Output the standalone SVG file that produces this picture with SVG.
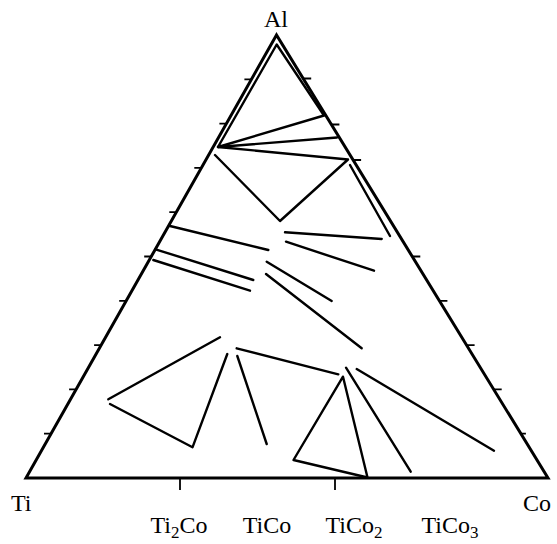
<svg xmlns="http://www.w3.org/2000/svg" width="557" height="544" viewBox="0 0 557 544">
<style>
.frame{fill:none;stroke:#000;stroke-width:3;stroke-linejoin:miter}
.tick{fill:none;stroke:#000;stroke-width:1.8}
.tie{fill:none;stroke:#000;stroke-width:2.4;stroke-linecap:round;stroke-linejoin:round}
.lbl{font-family:"Liberation Serif","Times New Roman",serif;font-size:24px;fill:#000}
.sub{font-size:17px}
</style>
<rect width="557" height="544" fill="#fff"/>
<g id="frame">
<polygon class="frame" points="276.5,35 26,478 548,478"/>
</g>
<g id="ticks">
<path class="tick" d="M251.4,79.3h-7 M226.4,123.6h-7 M201.3,167.9h-7 M176.3,212.2h-7 M151.2,256.5h-7 M126.2,300.8h-7 M101.1,345.1h-7 M76.1,389.4h-7 M51,433.7h-7"/>
<path class="tick" d="M303.2,78.5h8 M331.4,124.5h8 M353.1,160h8 M412.3,256.5h8 M439.4,300.8h8 M466.6,345.1h8 M493.7,389.4h8 M520.9,433.7h5"/>
<path class="tick" d="M180,478v12 M335,478v12"/>
</g>
<g id="connectors">
<polyline class="tie" points="324,115.5 276.7,44.5 218,147 324,115.5"/>
<line class="tie" x1="218" y1="147" x2="337" y2="137.5"/>
<polyline class="tie" points="218,147 348,159.5 280,221 215,155"/>
<line class="tie" x1="350" y1="165" x2="390" y2="236"/>
<line class="tie" x1="170" y1="226" x2="268.3" y2="250"/>
<line class="tie" x1="155.5" y1="249.3" x2="253.3" y2="280"/>
<line class="tie" x1="153.3" y1="260" x2="250" y2="290.7"/>
<line class="tie" x1="285" y1="232.3" x2="381.7" y2="239"/>
<line class="tie" x1="286" y1="241.7" x2="374" y2="270.7"/>
<line class="tie" x1="266.7" y1="261.7" x2="331.7" y2="301"/>
<line class="tie" x1="266" y1="274" x2="361.7" y2="348.3"/>
<polyline class="tie" points="220,337.3 108.3,399.3"/>
<polyline class="tie" points="110,404 192.5,447.3 227.3,354"/>
<line class="tie" x1="236.7" y1="348.3" x2="338.3" y2="374.3"/>
<line class="tie" x1="237.3" y1="356" x2="266.7" y2="444"/>
<polygon class="tie" points="343,376.7 293.5,460 367.5,477.5"/>
<line class="tie" x1="346" y1="367.7" x2="410.7" y2="471.7"/>
<line class="tie" x1="356.7" y1="369" x2="494" y2="450.7"/>
</g>
<g id="labels">
<text class="lbl" x="276" y="27" text-anchor="middle">Al</text>
<text class="lbl" x="11" y="511">Ti</text>
<text class="lbl" x="551" y="511" text-anchor="end">Co</text>
<text class="lbl" x="179" y="533" text-anchor="middle">Ti<tspan class="sub" dy="5">2</tspan><tspan dy="-5">Co</tspan></text>
<text class="lbl" x="267" y="533" text-anchor="middle">TiCo</text>
<text class="lbl" x="354" y="533" text-anchor="middle">TiCo<tspan class="sub" dy="5">2</tspan></text>
<text class="lbl" x="450" y="533" text-anchor="middle">TiCo<tspan class="sub" dy="5">3</tspan></text>
</g>
</svg>
